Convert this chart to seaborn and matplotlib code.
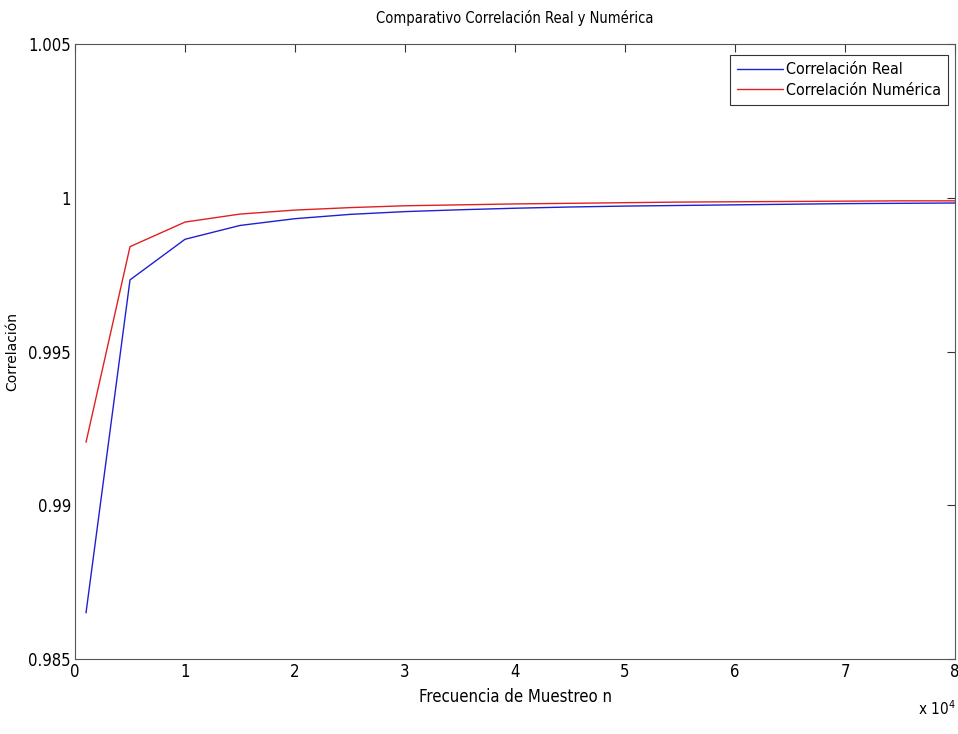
import pandas as pd
import matplotlib.pyplot as plt
import seaborn as sns
from matplotlib.ticker import FuncFormatter

# Sampling frequencies and correlation values
n_values = [1000, 5000, 10000, 15000, 20000, 25000, 30000, 35000, 40000,
            45000, 50000, 55000, 60000, 65000, 70000, 75000, 80000]
corr_real = [0.98650, 0.99733, 0.99865, 0.99910, 0.99932, 0.99946, 0.99955,
             0.99961, 0.99966, 0.99970, 0.99973, 0.99975, 0.99977, 0.99979,
             0.99981, 0.99982, 0.99983]
corr_num = [0.99205, 0.99841, 0.99921, 0.99947, 0.99960, 0.99968, 0.99974,
            0.99977, 0.99980, 0.99982, 0.99984, 0.99986, 0.99987, 0.99988,
            0.99989, 0.99990, 0.99990]
series_names = ['Correlación Real', 'Correlación Numérica']
x_ticks = [0, 10000, 20000, 30000, 40000, 50000, 60000, 70000, 80000]
y_ticks = [0.985, 0.99, 0.995, 1.0, 1.005]


def main():
    sns.set_style('white')
    plt.rcParams['font.family'] = ['DejaVu Sans']
    plt.rcParams['font.stretch'] = 'condensed'
    plt.rcParams['text.color'] = 'black'
    plt.rcParams['axes.labelcolor'] = 'black'

    df = pd.DataFrame({
        'n': n_values * 2,
        'corr': corr_real + corr_num,
        'serie': [series_names[0]] * len(n_values) + [series_names[1]] * len(n_values),
    })

    fig = plt.figure(figsize=(9.58, 7.34), dpi=100)
    ax = fig.add_axes([0.0783, 0.1022, 0.9186, 0.8378])
    sns.lineplot(data=df, x='n', y='corr', hue='serie',
                 palette={series_names[0]: '#2020d0', series_names[1]: '#e02020'},
                 linewidth=1.0, ax=ax, legend=True)

    ax.set_xlim(0, 80000)
    ax.set_ylim(0.985, 1.005)
    ax.set_xticks(x_ticks)
    ax.set_yticks(y_ticks)
    ax.xaxis.set_major_formatter(FuncFormatter(lambda v, p: f'{v / 1e4:g}'))
    ax.yaxis.set_major_formatter(FuncFormatter(lambda v, p: f'{v:g}'))
    ax.tick_params(direction='in', top=True, right=True, length=6,
                   labelsize=12, width=0.8, colors='#333333', labelcolor='black', pad=3)
    for s in ax.spines.values():
        s.set_color('#555555')
        s.set_linewidth(0.8)

    ax.set_title('Comparativo Correlación Real y Numérica', fontsize=10.5, pad=15)
    ax.set_xlabel('Frecuencia de Muestreo n', fontsize=12, labelpad=5)
    ax.set_ylabel('Correlación', fontsize=10, fontstretch='normal', labelpad=2)
    ax.yaxis.set_label_coords(-0.063, 0.5)
    fig.text(0.978, 0.022, r'x 10$^4$', fontsize=11, ha='center', va='bottom')

    leg = ax.legend(loc='upper right', fontsize=11.5, frameon=True, fancybox=False,
                    handlelength=2.9, handletextpad=0.15, borderpad=0.45,
                    labelspacing=0.35, borderaxespad=0, bbox_to_anchor=(0.992, 0.982))
    leg.get_frame().set_edgecolor('black')
    leg.get_frame().set_linewidth(0.8)

    fig.savefig('out.png', dpi=100)
    plt.close(fig)


if __name__ == '__main__':
    main()
